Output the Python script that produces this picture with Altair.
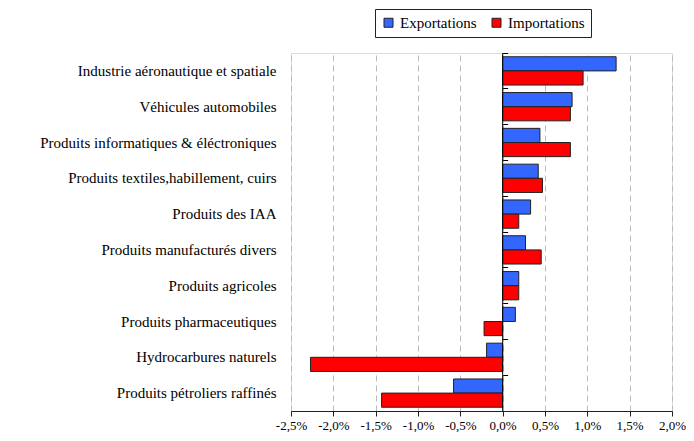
import altair as alt
import pandas as pd

categories = [
    "Industrie aéronautique et spatiale",
    "Véhicules automobiles",
    "Produits informatiques & éléctroniques",
    "Produits textiles,habillement, cuirs",
    "Produits des IAA",
    "Produits manufacturés divers",
    "Produits agricoles",
    "Produits pharmaceutiques",
    "Hydrocarbures naturels",
    "Produits pétroliers raffinés",
]
exportations = [1.34, 0.82, 0.44, 0.42, 0.33, 0.27, 0.19, 0.15, -0.19, -0.58]
importations = [0.95, 0.80, 0.80, 0.47, 0.19, 0.455, 0.19, -0.22, -2.27, -1.43]
series = ["Exportations", "Importations"]
colors = ["#3366FF", "#FF0000"]
x_ticks = [-2.5, -2.0, -1.5, -1.0, -0.5, 0.0, 0.5, 1.0, 1.5, 2.0]
x_min, x_max = -2.5, 2.0

rows = []
for c, e, i in zip(categories, exportations, importations):
    rows.append({"cat": c, "serie": series[0], "val": e})
    rows.append({"cat": c, "serie": series[1], "val": i})
df = pd.DataFrame(rows)

FONT = "Liberation Serif"
W, H = 381, 358
P_INNER, P_OUTER = 0.21, 0.105

label_expr = "(datum.value < 0 ? '-' : '') + replace(format(abs(datum.value), '.1f'), '.', ',') + '%'"

xscale = alt.Scale(domain=[x_min, x_max], nice=False, zero=False)
yscale = alt.Scale(paddingInner=P_INNER, paddingOuter=P_OUTER)

bars = alt.Chart(df).mark_bar(stroke="#222222", strokeWidth=1).encode(
    x=alt.X("val:Q", scale=xscale,
            axis=alt.Axis(values=x_ticks, labelExpr=label_expr, title=None,
                          grid=True, gridDash=[6, 4], gridColor="#BBBBBB",
                          domainColor="#222222", tickColor="#222222", tickSize=5,
                          labelFont=FONT, labelFontSize=13, labelColor="#000000",
                          labelPadding=3, labelOverlap=False, labelFlush=False)),
    y=alt.Y("cat:N", sort=categories, scale=yscale,
            axis=alt.Axis(title=None, ticks=False, domain=False, labelFont=FONT,
                          labelFontSize=15, labelColor="#000000", labelPadding=15,
                          labelLimit=400)),
    yOffset=alt.YOffset("serie:N", sort=series),
    color=alt.Color("serie:N", sort=series,
                    scale=alt.Scale(domain=series, range=colors),
                    legend=alt.Legend(title=None, orient="none", direction="horizontal",
                                      legendX=84, legendY=-44,
                                      symbolType="square", symbolSize=81,
                                      symbolStrokeColor="#222222", symbolStrokeWidth=1,
                                      labelFont=FONT, labelFontSize=15, labelColor="#000000",
                                      strokeColor="#222222", padding=6, columnPadding=12,
                                      symbolOffset=0, labelOffset=4)),
)

# zero line with small category separator ticks pointing right
zero_offset = -(x_max / (x_max - x_min)) * W
zero = alt.Chart(pd.DataFrame({"z": [0.0]})).mark_rule(color="#000000", strokeWidth=1).encode(
    x=alt.X("z:Q", scale=xscale)
)
sep = alt.Chart(df).mark_point(opacity=0).encode(
    x=alt.X("val:Q", scale=xscale),
    y=alt.Y("cat:N", sort=categories, scale=yscale,
            axis=alt.Axis(orient="right", title=None, labels=False, domain=False,
                          ticks=True, tickSize=5, tickColor="#000000", tickWidth=1,
                          bandPosition=-P_INNER / (2 * (1 - P_INNER)),
                          offset=zero_offset, grid=False)),
)

chart = alt.layer(bars, zero, sep).resolve_axis(y="independent").properties(
    width=W, height=H,
    padding={"left": 31, "top": 0, "right": 0, "bottom": 0},
).configure_view(stroke="#333333", strokeWidth=1).configure(background="white")

chart.save("out.html", embed_options={"renderer": "svg", "actions": False})
